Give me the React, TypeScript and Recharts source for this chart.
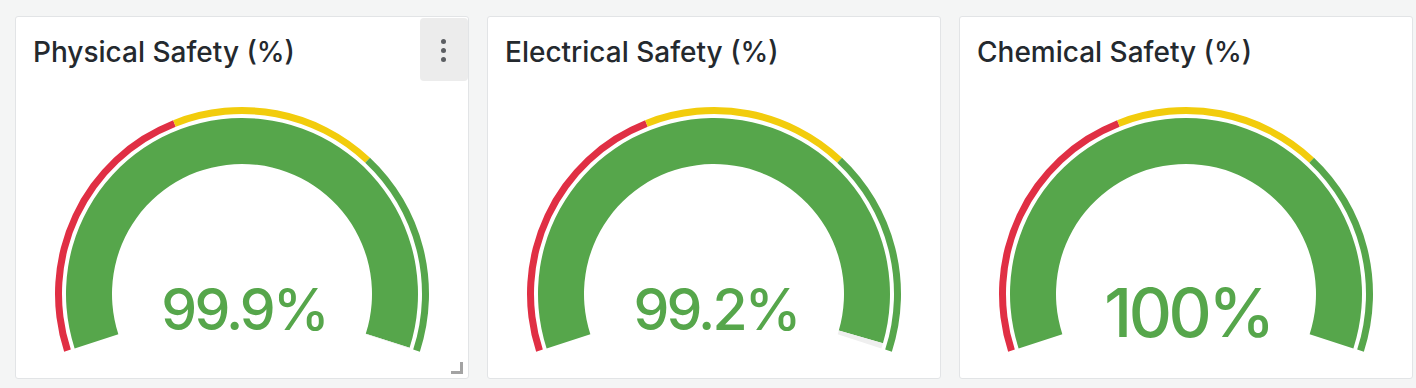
import { PieChart, Pie, Cell, Label } from "recharts";

const panelTitles = ["Physical Safety (%)", "Electrical Safety (%)", "Chemical Safety (%)"];
const gaugeValues = [99.9, 99.2, 100];
const valueLabels = ["99.9%", "99.2%", "100%"];
const gaugeMax = 100;

// threshold bands: upper bound of each step
const thresholdNames = ["critical", "warning", "ok"];
const thresholdSteps = [40, 70, 100];
const thresholdColors = ["#E02F44", "#F2CC0C", "#56A64B"];

const VALUE_COLOR = "#56A64B";
const TRACK_COLOR = "#EFEFEF";
const FONT = "Inter, 'Noto Sans', sans-serif";

const PANEL_W = 454;
const PANEL_H = 363;
const CX = 226;
const CY = 277;
const START_ANGLE = 198;
const END_ANGLE = -18;

const bands = thresholdSteps.map((step, i) => ({
  name: thresholdNames[i],
  value: step - (i === 0 ? 0 : thresholdSteps[i - 1]),
}));

const Gauge = ({ title, value, label, menu }: { title: string; value: number; label: string; menu?: boolean }) => {
  const data = [
    { name: "value", value },
    { name: "rest", value: gaugeMax - value },
  ];
  // shorter strings get a bigger font, like grafana's auto sizing
  const fontSize = label.length > 4 ? 57 : 67;
  return (
    <div
      style={{
        position: "relative",
        width: PANEL_W,
        height: PANEL_H,
        boxSizing: "border-box",
        border: "1px solid #e2e4e6",
        borderRadius: 3,
        background: "#fff",
      }}
    >
      <div
        style={{
          position: "absolute",
          left: 17,
          top: 19,
          fontFamily: FONT,
          fontSize: 28,
          fontWeight: 500,
          lineHeight: "32px",
          color: "#24292e",
          whiteSpace: "nowrap",
        }}
      >
        {title}
      </div>
      {menu && (
        <div
          style={{
            position: "absolute",
            left: 404,
            top: 1,
            width: 48,
            height: 63,
            background: "#ececec",
            borderRadius: 4,
          }}
        >
          {[23, 32, 41].map((y) => (
            <div
              key={y}
              style={{
                position: "absolute",
                left: 21,
                top: y - 2.5,
                width: 5,
                height: 5,
                borderRadius: "50%",
                background: "#5b5e62",
              }}
            />
          ))}
        </div>
      )}
      <div style={{ position: "absolute", left: 0, top: 0 }}>
        <PieChart width={PANEL_W - 2} height={PANEL_H - 2} margin={{ top: 0, right: 0, bottom: 0, left: 0 }}>
          <Pie
            data={bands}
            dataKey="value"
            cx={CX}
            cy={CY}
            innerRadius={180}
            outerRadius={187}
            startAngle={START_ANGLE}
            endAngle={END_ANGLE}
            stroke="none"
            isAnimationActive={false}
          >
            {bands.map((b, i) => (
              <Cell key={b.name} fill={thresholdColors[i]} stroke="none" />
            ))}
          </Pie>
          <Pie
            data={data}
            dataKey="value"
            cx={CX}
            cy={CY}
            innerRadius={130}
            outerRadius={176}
            startAngle={START_ANGLE}
            endAngle={END_ANGLE}
            stroke="none"
            isAnimationActive={false}
          >
            <Cell fill={VALUE_COLOR} stroke="none" />
            <Cell fill={TRACK_COLOR} stroke="none" />
            <Label
              position="center"
              content={() => (
                <text
                  x={CX + 2}
                  y={CY + 36 + (fontSize - 57) * 0.727}
                  textAnchor="middle"
                  fill={VALUE_COLOR}
                  style={{
                    fontFamily: FONT,
                    fontSize,
                    fontWeight: 500,
                    letterSpacing: "-0.05em",
                  }}
                >
                  {label}
                </text>
              )}
            />
          </Pie>
        </PieChart>
      </div>
      {menu && (
        <>
          <div style={{ position: "absolute", left: 444, top: 345, width: 3, height: 12, background: "#a3a3a3" }} />
          <div style={{ position: "absolute", left: 435, top: 354, width: 12, height: 3, background: "#a3a3a3" }} />
        </>
      )}
    </div>
  );
};

const App = () => (
  <div
    style={{
      position: "absolute",
      left: 0,
      top: 0,
      width: 1416,
      height: 388,
      background: "#f4f5f5",
    }}
  >
    {panelTitles.map((t, i) => (
      <div key={t} style={{ position: "absolute", left: 15 + i * 472, top: 16 }}>
        <Gauge title={t} value={gaugeValues[i]} label={valueLabels[i]} menu={i === 0} />
      </div>
    ))}
  </div>
);

export default App;
